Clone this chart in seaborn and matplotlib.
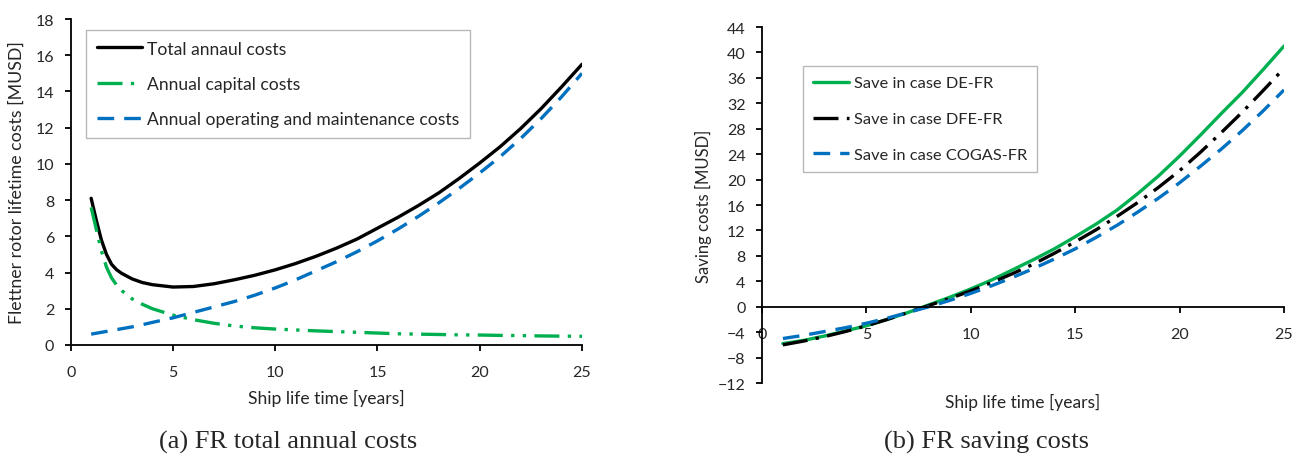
import numpy as np
import pandas as pd
import seaborn as sns
import matplotlib.pyplot as plt

# ---- data ----
years = [1, 1.25, 1.5, 1.75, 2, 2.25, 2.5, 3, 3.5, 4, 5, 6, 7, 8, 9, 10, 11, 12, 13, 14, 15, 16, 17, 18, 19, 20, 21, 22, 23, 24, 25]
total_costs = [8.1, 6.9, 5.8, 5.0, 4.45, 4.15, 3.95, 3.65, 3.45, 3.33, 3.2, 3.23, 3.38, 3.6, 3.85, 4.15, 4.5, 4.9, 5.35, 5.85, 6.45, 7.05, 7.7, 8.4, 9.2, 10.05, 10.95, 11.95, 13.05, 14.25, 15.5]
capital_costs = [7.6, 6.4, 5.2, 4.3, 3.7, 3.3, 3.0, 2.55, 2.25, 2.0, 1.65, 1.4, 1.2, 1.05, 0.95, 0.88, 0.83, 0.78, 0.74, 0.7, 0.66, 0.62, 0.6, 0.58, 0.56, 0.55, 0.53, 0.52, 0.5, 0.49, 0.48]
om_costs = [0.6, 0.65, 0.7, 0.75, 0.8, 0.85, 0.9, 1.0, 1.12, 1.25, 1.5, 1.8, 2.1, 2.4, 2.75, 3.15, 3.6, 4.1, 4.6, 5.15, 5.75, 6.4, 7.1, 7.85, 8.65, 9.5, 10.4, 11.4, 12.5, 13.7, 15.0]

ship_years = list(range(1, 26))
save_de = [-5.8, -5.3, -4.6, -3.8, -3.0, -2.0, -0.9, 0.3, 1.5, 2.8, 4.2, 5.8, 7.4, 9.1, 11.0, 13.0, 15.2, 17.8, 20.6, 23.7, 27.0, 30.4, 33.7, 37.3, 41.0]
save_dfe = [-6.0, -5.4, -4.7, -3.9, -3.0, -2.0, -0.9, 0.2, 1.3, 2.5, 3.8, 5.2, 6.7, 8.4, 10.2, 12.1, 14.2, 16.4, 18.8, 21.4, 24.3, 27.4, 30.6, 34.0, 37.5]
save_cogas = [-5.0, -4.5, -3.9, -3.3, -2.6, -1.8, -0.9, 0.0, 1.0, 2.1, 3.3, 4.6, 6.0, 7.5, 9.1, 10.9, 12.8, 14.9, 17.1, 19.5, 22.1, 24.8, 27.7, 30.8, 34.1]

green = '#00B050'
blue = '#0070C0'
lw = 2.4
dash_dot_dot = (0, (7.5, 2.5, 1, 2.5, 1, 2.5))
dash_dot = (0, (7.5, 2.5, 1, 2.5))
dashed = (0, (5, 3))

sns.set_style('ticks')
plt.rcParams['font.family'] = ['Lato', 'DejaVu Sans']

fig = plt.figure(figsize=(13.11, 4.56), dpi=100)
ax1 = fig.add_axes([70.7 / 1311, 110 / 456, 511.3 / 1311, 326 / 456])
ax2 = fig.add_axes([762 / 1311, 72 / 456, 522 / 1311, 356 / 456])


def style_axes(ax):
    ax.tick_params(labelsize=11.5, width=1.3, length=4.3, color='black', direction='out')
    ax.tick_params(axis='x', pad=10)
    ax.tick_params(axis='y', pad=7.5)
    for s in ['top', 'right']:
        ax.spines[s].set_visible(False)
    for s in ['left', 'bottom']:
        ax.spines[s].set_linewidth(1.3)
        ax.spines[s].set_color('black')


df1 = pd.DataFrame({'year': years, 'total': total_costs, 'capital': capital_costs, 'om': om_costs})
sns.lineplot(data=df1, x='year', y='total', ax=ax1, color='black', lw=lw, label='Total annaul costs')
sns.lineplot(data=df1, x='year', y='capital', ax=ax1, color=green, lw=lw,
             linestyle=dash_dot_dot, label='Annual capital costs')
sns.lineplot(data=df1, x='year', y='om', ax=ax1, color=blue, lw=lw,
             linestyle=dashed, label='Annual operating and maintenance costs')

ax1.set_xlim(0, 25)
ax1.set_ylim(0, 18)
ax1.set_xticks(range(0, 26, 5))
ax1.set_yticks(range(0, 19, 2))
style_axes(ax1)
ax1.set_xlabel('Ship life time [years]', fontsize=12.6)
ax1.xaxis.set_label_coords(0.5, -0.135)
ax1.set_ylabel('Flettner rotor lifetime costs [MUSD]', fontsize=12.8)
ax1.yaxis.set_label_coords(-0.089, 0.5)
ax1.legend(loc='upper left', bbox_to_anchor=(0.030, 0.966), fontsize=12.6, frameon=True,
           fancybox=False, edgecolor='#A6A6A6', handlelength=2.6, labelspacing=1.1,
           borderpad=0.6, handletextpad=0.3, borderaxespad=0)

df2 = pd.DataFrame({'year': ship_years, 'de': save_de, 'dfe': save_dfe, 'cogas': save_cogas})
sns.lineplot(data=df2, x='year', y='de', ax=ax2, color=green, lw=lw, label='Save in case DE-FR')
sns.lineplot(data=df2, x='year', y='dfe', ax=ax2, color='black', lw=lw,
             linestyle=dash_dot, label='Save in case DFE-FR')
sns.lineplot(data=df2, x='year', y='cogas', ax=ax2, color=blue, lw=lw,
             linestyle=dashed, label='Save in case COGAS-FR')

ax2.set_xlim(0, 25)
ax2.set_ylim(-12, 44)
ax2.set_xticks(range(0, 26, 5))
ax2.set_yticks(range(-12, 45, 4))
style_axes(ax2)
ax2.spines['bottom'].set_position(('data', 0))
ax2.set_xlabel('Ship life time [years]', fontsize=12.5)
ax2.xaxis.set_label_coords(0.5, -0.028)
ax2.set_ylabel('Saving costs [MUSD]', fontsize=12)
ax2.yaxis.set_label_coords(-0.096, 0.5)
ax2.legend(loc='upper left', bbox_to_anchor=(0.0785, 0.890), fontsize=11.8, frameon=True,
           fancybox=False, edgecolor='#A6A6A6', handlelength=2.2, labelspacing=1.3,
           borderpad=0.6, handletextpad=0.3, borderaxespad=0)

fig.text(288.5 / 1311, 13.5 / 456, '(a) FR total annual costs', ha='center', va='center',
         fontsize=19, family='Liberation Serif')
fig.text(986 / 1311, 13.5 / 456, '(b) FR saving costs', ha='center', va='center',
         fontsize=19, family='Liberation Serif')

fig.savefig('out.png', dpi=100)
